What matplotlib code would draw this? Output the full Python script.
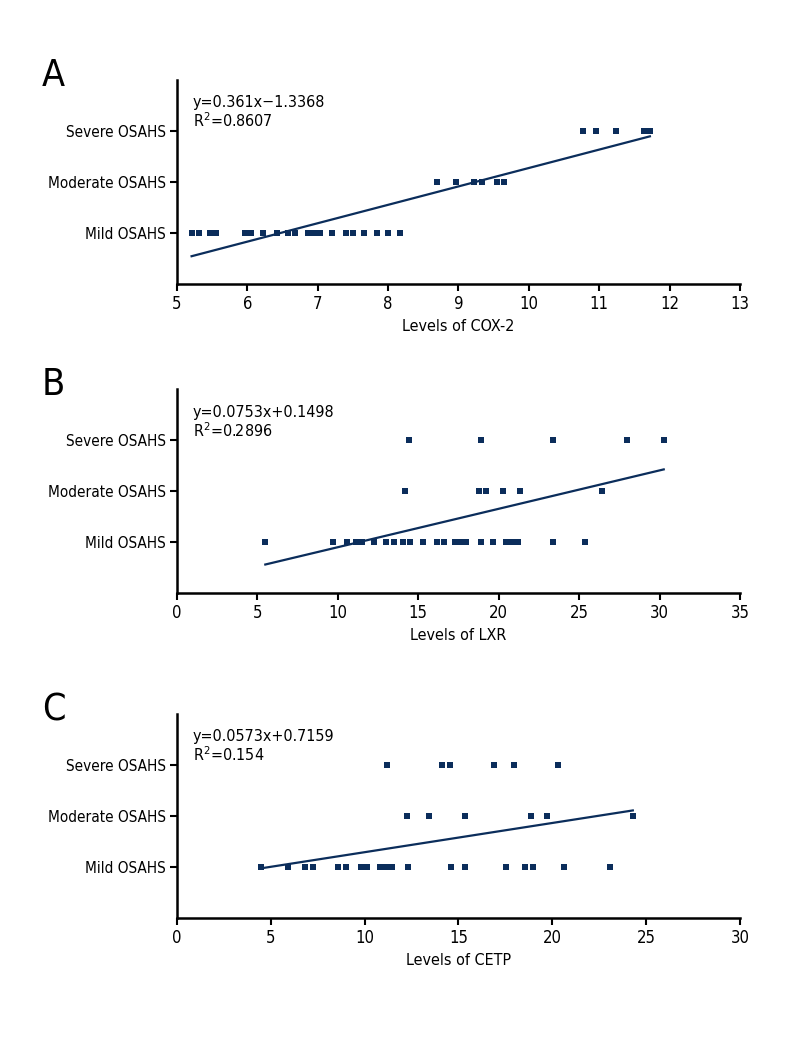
import numpy as np
import matplotlib.pyplot as plt

plt.rcParams['font.family'] = ['DejaVu Sans']
plt.rcParams['font.stretch'] = 'condensed'

navy = '#0b2d5b'
severity_labels = ['Mild OSAHS', 'Moderate OSAHS', 'Severe OSAHS']

# ---- panel A: COX-2 ----
cox_mild = [5.21, 5.32, 5.47, 5.56, 5.97, 6.06, 6.23, 6.43, 6.58, 6.68, 6.87, 6.95,
            7.03, 7.20, 7.40, 7.50, 7.66, 7.84, 8.00, 8.17]
cox_moderate = [8.69, 8.97, 9.22, 9.33, 9.55, 9.65]
cox_severe = [10.77, 10.96, 11.24, 11.63, 11.72]
cox_fit = (0.361, -1.3368)
cox_text = 'y=0.361x\u22121.3368\nR$^{2}$=0.8607'

# ---- panel B: LXR ----
lxr_mild = [5.5, 9.69, 10.58, 11.16, 11.49, 12.24, 13.03, 13.5, 14.06, 14.48, 15.29,
            16.18, 16.6, 17.26, 17.63, 18.0, 18.9, 19.66, 20.43, 20.8, 21.18, 23.38, 25.37]
lxr_moderate = [14.21, 18.77, 19.23, 20.27, 21.32, 26.45]
lxr_severe = [14.42, 18.9, 23.38, 28.0, 30.26]
lxr_fit = (0.0753, 0.1498)
lxr_text = 'y=0.0753x+0.1498\nR$^{2}$=0.2896'

# ---- panel C: CETP ----
cetp_mild = [4.48, 5.93, 6.84, 7.23, 8.58, 8.99, 9.8, 10.14, 10.83, 11.15, 11.47, 12.34,
             14.6, 15.33, 17.54, 18.56, 18.97, 20.63, 23.05]
cetp_moderate = [12.25, 13.43, 15.36, 18.88, 19.7, 24.29]
cetp_severe = [11.19, 14.15, 14.55, 16.87, 17.97, 20.33]
cetp_fit = (0.0573, 0.7159)
cetp_text = 'y=0.0573x+0.7159\nR$^{2}$=0.154'

panels = [
    ('A', cox_mild, cox_moderate, cox_severe, cox_fit, cox_text, 'Levels of COX-2', (5, 13), np.arange(5, 14, 1)),
    ('B', lxr_mild, lxr_moderate, lxr_severe, lxr_fit, lxr_text, 'Levels of LXR', (0, 35), np.arange(0, 40, 5)),
    ('C', cetp_mild, cetp_moderate, cetp_severe, cetp_fit, cetp_text, 'Levels of CETP', (0, 30), np.arange(0, 35, 5)),
]

fig = plt.figure(figsize=(8, 10.6), dpi=100)
bottoms = [0.7321, 0.4403, 0.1340]

for (lab, mild, mod, sev, fit, txt, xlabel, xlim, xticks), b in zip(panels, bottoms):
    ax = fig.add_axes([0.221, b, 0.704, 0.1925])
    for level, xs in enumerate([mild, mod, sev], start=1):
        ax.plot(xs, [level] * len(xs), 's', color=navy, markersize=5, markeredgewidth=0)
    allx = mild + mod + sev
    lx = np.array([min(allx), max(allx)])
    ax.plot(lx, fit[0] * lx + fit[1], color=navy, lw=1.6)

    ax.set_xlim(*xlim)
    ax.set_ylim(0, 4)
    ax.set_xticks(xticks)
    ax.set_yticks([1, 2, 3])
    ax.set_yticklabels(severity_labels, fontsize=11)
    ax.set_xlabel(xlabel, fontsize=11.5, labelpad=4)
    for s in ['top', 'right']:
        ax.spines[s].set_visible(False)
    for s in ['left', 'bottom']:
        ax.spines[s].set_linewidth(1.8)
    ax.tick_params(direction='out', length=5, width=1.5, labelsize=12, pad=3)
    ax.tick_params(axis='y', labelsize=11)
    ax.text(0.028, 0.925, txt, transform=ax.transAxes, fontsize=11.5, va='top', ha='left',
            linespacing=1.1)
    ax.text(-0.24, 0.97, lab, transform=ax.transAxes, fontsize=27, va='baseline', ha='left')

plt.savefig('out.png', dpi=100)
